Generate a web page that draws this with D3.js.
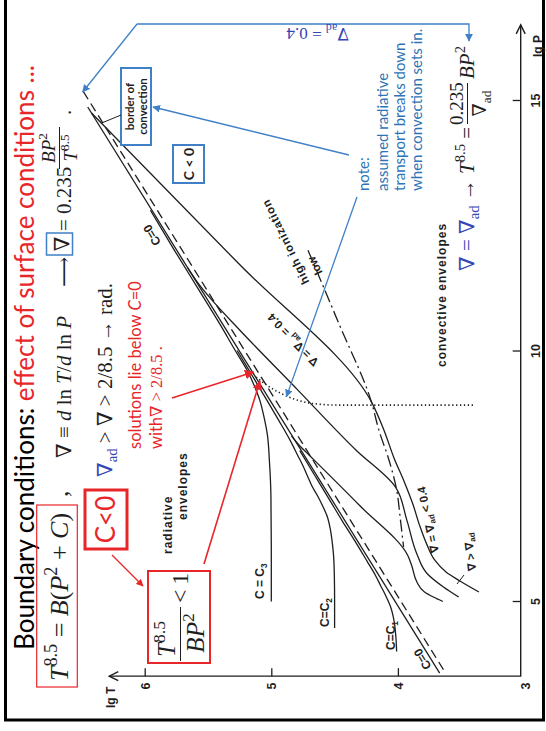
<!DOCTYPE html>
<html>
<head>
<meta charset="utf-8">
<script src="https://cdn.jsdelivr.net/npm/d3@7"></script>
<style>
  html, body { margin: 0; padding: 0; background: #fff; }
  svg { display: block; }
  text { white-space: pre; }
</style>
</head>
<body>
<div id="chart-area"></div>
<script>
// values, every point is [lg P, lg T]
const lgTTicks = [3, 4, 5, 6]
const lgPTicks = [5, 10, 15]

const cZero = [[3.56, 3.67], [14.86, 6.45]]
const borderConvection = [[3.63, 3.64], [15.23, 6.50]]
const cOne = [[3.99, 4.01], [4.25, 4.015], [4.6, 4.03], [4.9, 4.06], [5.1, 4.095], [5.3, 4.135], [5.5, 4.175],
  [5.8, 4.245], [6.2, 4.34], [6.6, 4.44], [7.0, 4.535], [7.5, 4.655], [8.0, 4.775]]
const cTwo = [[4.46, 4.50], [5.0, 4.50], [5.5, 4.502], [5.9, 4.508], [6.2, 4.52], [6.45, 4.535], [6.7, 4.56],
  [6.9, 4.595], [7.1, 4.635], [7.3, 4.68], [7.5, 4.715], [7.7, 4.75], [7.9, 4.79], [8.2, 4.85], [8.6, 4.94],
  [9.2, 5.08], [10.0, 5.27]]
const cThree = [[4.99, 5.0], [6.1, 5.0], [7.1, 5.003], [7.8, 5.015], [8.3, 5.03], [8.7, 5.06], [9.0, 5.09],
  [9.3, 5.135], [9.6, 5.19], [10.0, 5.285], [10.5, 5.40], [11.2, 5.57], [12.0, 5.765], [12.8, 5.955]]

const adiabatUpper = [[14.74, 6.42], [11.74, 5.26], [8.98, 4.21], [8.41, 4.11], [7.85, 4.03], [7.38, 3.95],
  [6.92, 3.88], [6.52, 3.83], [6.12, 3.77], [5.82, 3.71], [5.58, 3.62], [5.40, 3.51], [5.18, 3.36]]
const adiabatMiddle = [[11.65, 5.66], [11.35, 5.58], [11.01, 5.47], [10.41, 5.25], [9.21, 4.79], [8.01, 4.33],
  [7.28, 4.02], [6.62, 3.93], [5.94, 3.85], [5.55, 3.77], [5.28, 3.64], [5.08, 3.52]]
const adiabatLower = [[8.29, 4.84], [8.11, 4.78], [7.91, 4.70], [6.90, 4.30], [5.90, 3.92], [5.70, 3.89],
  [5.38, 3.85], [5.18, 3.79], [5.08, 3.72], [4.99, 3.645]]

const ionization = [[12.0, 4.71], [10.5, 4.46], [8.98, 4.21], [8.41, 4.15], [7.81, 4.07], [7.22, 4.01],
  [6.62, 3.98], [6.08, 3.955]]
const radiativeBreak = [[9.47, 5.12], [9.25, 5.00], [9.07, 4.86], [8.94, 4.67], [8.91, 4.46], [8.91, 3.39]]

// points the slide annotations aim at
const redArrowTips = [[9.57, 5.14], [9.39, 5.09]]
const noteArrowTip = [9.08, 4.88]
const borderArrowTip = [15.16, 6.49]
const borderLeaderFoot = [14.54, 6.34]

const SANS = "Lato, 'Liberation Sans', sans-serif"
const FIG = "'Liberation Sans', 'DejaVu Sans', Arial, sans-serif"
const MATH = "'Liberation Serif', 'DejaVu Serif', serif"
const RED = "#e8262a"
const BLUE = "#3f80c6"
const BLUE_TXT = "#2e74b5"
const MATH_BLUE = "#3645b5"
const INK = "#1e1e1e"

const svg = d3.select("#chart-area").append("svg")
  .attr("width", 546)
  .attr("height", 731)

const defs = svg.append("defs")
function marker(id, color) {
  defs.append("marker")
    .attr("id", id)
    .attr("viewBox", "0 0 10 10")
    .attr("refX", 9).attr("refY", 5)
    .attr("markerWidth", 6).attr("markerHeight", 6)
    .attr("orient", "auto")
    .append("path")
    .attr("d", "M0,0 L10,5 L0,10 z")
    .attr("fill", color)
}
marker("arrRed", RED)
marker("arrBlue", BLUE)

// lg T runs right->left on the page, lg P runs bottom->top
const xScale = d3.scaleLinear().domain([3, 6]).range([524.5, 144.7])
const yScale = d3.scaleLinear().domain([5, 15]).range([601, 100])
const px = d => xScale(d[1])
const py = d => yScale(d[0])

// slide frame
svg.append("path")
  .attr("d", "M5.5,0 V720 H543.5 V0")
  .attr("fill", "none").attr("stroke", "#000").attr("stroke-width", 3)

function richText(parent, x, y, rot, parts, o) {
  const size = o.size
  const t = parent.append("text")
    .attr("transform", `translate(${x},${y}) rotate(${rot})`)
    .attr("font-family", o.font || MATH)
    .attr("font-size", size)
    .attr("font-weight", o.weight || "normal")
    .attr("fill", o.fill || INK)
    .attr("text-anchor", o.anchor || "start")
  if (o.spacing) t.attr("letter-spacing", o.spacing)
  if (o.length) t.attr("textLength", o.length).attr("lengthAdjust", "spacingAndGlyphs")
  let shift = 0
  parts.forEach(([str, flags = ""]) => {
    const s = t.append("tspan").text(str)
    const target = flags.includes("^") ? -0.42 * size : flags.includes("_") ? 0.24 * size : 0
    if (target !== shift) s.attr("dy", target - shift)
    shift = target
    if (flags.includes("^") || flags.includes("_")) s.attr("font-size", size * 0.7)
    if (flags.includes("i")) s.attr("font-style", "italic")
    if (flags.includes("m")) s.attr("font-family", MATH)
    if (flags.includes("b")) s.attr("fill", MATH_BLUE)
    if (flags.includes("r")) s.attr("fill", RED)
    if (flags.includes("k")) s.attr("fill", "#000")
  })
  return t
}

// ---------- plot ----------
const plot = svg.append("g")
const lineGen = d3.line().x(px).y(py).curve(d3.curveMonotoneY)

const solid = [cZero, cOne, cTwo, cThree, adiabatUpper, adiabatMiddle, adiabatLower]
plot.selectAll(".curve")
  .data(solid)
  .join("path")
  .attr("class", "curve")
  .attr("d", lineGen)
  .attr("fill", "none")
  .attr("stroke", INK)
  .attr("stroke-width", 1.3)

plot.append("path")
  .attr("d", lineGen(borderConvection))
  .attr("fill", "none").attr("stroke", INK).attr("stroke-width", 1.3)
  .attr("stroke-dasharray", "9,5")

plot.append("path")
  .attr("d", lineGen(ionization))
  .attr("fill", "none").attr("stroke", INK).attr("stroke-width", 1.3)
  .attr("stroke-dasharray", "12,4,2,4")

plot.append("path")
  .attr("d", d3.line().x(px).y(py).curve(d3.curveMonotoneX)(radiativeBreak))
  .attr("fill", "none").attr("stroke", INK).attr("stroke-width", 1.6)
  .attr("stroke-dasharray", "1.3,2.6")

// axes
const cornerT = 3.03, cornerP = 3.5
const xAxis = svg.append("g")
  .attr("transform", `translate(0,${yScale(cornerP)})`)
  .call(d3.axisBottom(xScale).tickValues(lgTTicks).tickSize(-8).tickFormat(d3.format("d")))
xAxis.select(".domain").remove()
xAxis.selectAll(".tick line").attr("stroke", INK).attr("stroke-width", 1.3)
xAxis.selectAll(".tick").filter(d => d === 3).select("line").remove()
xAxis.selectAll(".tick text")
  .attr("transform", "rotate(-90)")
  .attr("x", -10).attr("y", 0).attr("dy", "0.36em")
  .attr("text-anchor", "middle")
  .attr("font-family", FIG).attr("font-size", 12.5).attr("font-weight", "bold").attr("fill", INK)

const yAxis = svg.append("g")
  .attr("transform", `translate(${xScale(cornerT)},0)`)
  .call(d3.axisRight(yScale).tickValues(lgPTicks).tickSize(-8).tickFormat(d3.format("d")))
yAxis.select(".domain").remove()
yAxis.selectAll(".tick line").attr("stroke", INK).attr("stroke-width", 1.3)
yAxis.selectAll(".tick text")
  .attr("transform", "rotate(-90)")
  .attr("x", 0).attr("y", 19).attr("dy", 0)
  .attr("text-anchor", "middle")
  .attr("font-family", FIG).attr("font-size", 12.5).attr("font-weight", "bold").attr("fill", INK)

const ax0 = xScale(cornerT), ay0 = yScale(cornerP)
const axT = xScale(6.28), ayP = yScale(16.5)
svg.append("path")
  .attr("d", `M${axT},${ay0} H${ax0} V${ayP}`)
  .attr("fill", "none").attr("stroke", INK).attr("stroke-width", 1.4)
svg.append("path")
  .attr("d", `M${axT + 9},${ay0 - 4.5} L${axT},${ay0} L${axT + 9},${ay0 + 4.5}`)
  .attr("fill", "none").attr("stroke", INK).attr("stroke-width", 1.4)
svg.append("path")
  .attr("d", `M${ax0 - 4.5},${ayP + 9} L${ax0},${ayP} L${ax0 + 4.5},${ayP + 9}`)
  .attr("fill", "none").attr("stroke", INK).attr("stroke-width", 1.4)

richText(svg, 115, 708, -90, [["lg T"]], { font: FIG, size: 12, weight: "bold" })
richText(svg, 542, 57, -90, [["lg P"]], { font: FIG, size: 12, weight: "bold" })

// figure labels
const figLab = { font: FIG, size: 12, weight: "bold" }
richText(svg, 264, 599, -90, [["C = C"], ["3", "_"]], figLab)
richText(svg, 329, 627, -90, [["C=C"], ["2", "_"]], figLab)
richText(svg, 395, 650, -90, [["C=C"], ["1", "_"]], figLab)
richText(svg, 155.5, 233, -121, [["C=0"]], { ...figLab, anchor: "middle" })
richText(svg, 426, 657, -121, [["C=0"]], { ...figLab, anchor: "middle" })
richText(svg, 296, 337, -134, [["∇ = ∇"], ["ad", "_"], [" = 0.4"]], { ...figLab, size: 11.5, anchor: "middle" })
richText(svg, 432, 519, -102, [["∇ = ∇"], ["ad", "_"], [" < 0.4"]], { ...figLab, size: 11.5, anchor: "middle" })
richText(svg, 474, 551.5, -97, [["∇ > ∇"], ["ad", "_"]], { ...figLab, size: 11.5, anchor: "middle" })
svg.append("line").attr("x1", 457).attr("y1", 584).attr("x2", 464).attr("y2", 575)
  .attr("stroke", INK).attr("stroke-width", 1)
richText(svg, 309.5, 282, -116, [["high ionization"]], { ...figLab, size: 11.5, spacing: 0.8 })
richText(svg, 318.5, 264, -116, [["low"]], { ...figLab, size: 11.5, anchor: "middle" })
richText(svg, 172, 554, -90, [["radiative"]], { ...figLab, spacing: 1 })
richText(svg, 187, 520, -90, [["envelopes"]], { ...figLab, spacing: 1 })
richText(svg, 446, 367, -90, [["convective envelopes"]], { ...figLab, spacing: 1 })

// ---------- slide annotations ----------
richText(svg, 33.5, 650, -90, [["Boundary conditions: ", "k"], ["effect of surface conditions ...", "r"]],
  { font: SANS, size: 27, length: 585 })

// T^8.5 = B(P^2 + C)
svg.append("rect").attr("x", 36.7).attr("y", 505).attr("width", 40.6).attr("height", 182)
  .attr("fill", "none").attr("stroke", RED).attr("stroke-width", 1.2)
richText(svg, 68, 681, -90, [["T", "i"], ["8.5", "^"], [" = "], ["B", "i"], ["("], ["P", "i"], ["2", "^"], [" + "], ["C", "i"], [")"]], { size: 26 })
richText(svg, 68, 497, -90, [[","]], { size: 26 })

// nabla definition
richText(svg, 70.5, 458, -90, [["∇ ≡ "], ["d", "i"], [" ln "], ["T", "i"], ["/"], ["d", "i"], [" ln "], ["P", "i"]], { size: 21 })
richText(svg, 70.5, 287, -90, [["⟶"]], { size: 21 })
svg.append("rect").attr("x", 46.5).attr("y", 233).attr("width", 26).attr("height", 22)
  .attr("fill", "none").attr("stroke", BLUE).attr("stroke-width", 1.5)
richText(svg, 69, 244, -90, [["∇"]], { size: 21, anchor: "middle" })
richText(svg, 70.5, 231, -90, [["= 0.235"]], { size: 21 })
svg.append("line").attr("x1", 59.5).attr("y1", 127).attr("x2", 59.5).attr("y2", 169)
  .attr("stroke", INK).attr("stroke-width", 1)
richText(svg, 55, 148, -90, [["BP", "i"], ["2", "^"]], { size: 19, anchor: "middle" })
richText(svg, 77, 148, -90, [["T", "i"], ["8.5", "^"]], { size: 19, anchor: "middle" })
richText(svg, 70.5, 115, -90, [["."]], { size: 21 })

richText(svg, 112, 477, -90, [["∇", "b"], ["ad", "_b"], [" > ∇ > 2/8.5 → rad."]], { size: 21 })
richText(svg, 141, 449, -90, [["solutions lie below "], ["C", "i"], ["=0"]], { font: SANS, size: 16.5, fill: RED })
richText(svg, 162, 449, -90, [["with"], ["∇ > 2/8.5 .", "m"]], { font: SANS, size: 16.5, fill: RED })

// C<0 and the condition box
svg.append("rect").attr("x", 85).attr("y", 490).attr("width", 42).attr("height", 59)
  .attr("fill", "none").attr("stroke", RED).attr("stroke-width", 3)
richText(svg, 115, 519.5, -90, [["C<0"]], { font: SANS, size: 26, fill: RED, anchor: "middle" })
svg.append("line").attr("x1", 112).attr("y1", 555).attr("x2", 143).attr("y2", 586)
  .attr("stroke", RED).attr("stroke-width", 1.2).attr("marker-end", "url(#arrRed)")

svg.append("rect").attr("x", 148).attr("y", 571).attr("width", 62).attr("height", 92)
  .attr("fill", "none").attr("stroke", RED).attr("stroke-width", 2)
richText(svg, 175, 639, -90, [["T", "i"], ["8.5", "^"]], { size: 25, anchor: "middle" })
svg.append("line").attr("x1", 180.5).attr("y1", 607).attr("x2", 180.5).attr("y2", 661)
  .attr("stroke", INK).attr("stroke-width", 1)
richText(svg, 204, 633, -90, [["BP", "i"], ["2", "^"]], { size: 25, anchor: "middle" })
richText(svg, 188, 603, -90, [["<\u20091"]], { size: 24 })

svg.append("line").attr("x1", 204).attr("y1", 564)
  .attr("x2", px(redArrowTips[1])).attr("y2", py(redArrowTips[1]))
  .attr("stroke", RED).attr("stroke-width", 1.6).attr("marker-end", "url(#arrRed)")
svg.append("line").attr("x1", 172).attr("y1", 398)
  .attr("x2", px(redArrowTips[0])).attr("y2", py(redArrowTips[0]))
  .attr("stroke", RED).attr("stroke-width", 1.6).attr("marker-end", "url(#arrRed)")

// blue boxes and notes
svg.append("rect").attr("x", 121).attr("y", 68).attr("width", 30).attr("height", 77)
  .attr("fill", "#fff").attr("stroke", BLUE).attr("stroke-width", 2)
richText(svg, 134, 106.5, -90, [["border of"]], { font: SANS, size: 11.5, weight: "bold", anchor: "middle" })
richText(svg, 146.5, 106.5, -90, [["convection"]], { font: SANS, size: 11.5, weight: "bold", anchor: "middle" })
svg.append("line").attr("x1", px(borderLeaderFoot)).attr("y1", py(borderLeaderFoot))
  .attr("x2", 121).attr("y2", 115).attr("stroke", INK).attr("stroke-width", 1)

svg.append("rect").attr("x", 173).attr("y", 145).attr("width", 31).attr("height", 38)
  .attr("fill", "#fff").attr("stroke", BLUE).attr("stroke-width", 2)
richText(svg, 193.5, 164, -90, [["C < 0"]], { font: SANS, size: 14, weight: "bold", anchor: "middle" })

const noteLines = ["note:", "assumed radiative", "transport breaks down", "when convection sets in."]
const noteX = [369, 387.5, 404.5, 421.5]
noteLines.forEach((s, i) => richText(svg, noteX[i], 191, -90, [[s]], { font: SANS, size: 15, fill: BLUE_TXT }))
svg.append("line").attr("x1", 349).attr("y1", 155).attr("x2", 153).attr("y2", 107)
  .attr("stroke", BLUE).attr("stroke-width", 1.3).attr("marker-end", "url(#arrBlue)")
svg.append("line").attr("x1", 357).attr("y1", 197)
  .attr("x2", px(noteArrowTip)).attr("y2", py(noteArrowTip))
  .attr("stroke", BLUE).attr("stroke-width", 1.3).attr("marker-end", "url(#arrBlue)")

svg.append("path").attr("d", "M137,24 H469 V41")
  .attr("fill", "none").attr("stroke", BLUE).attr("stroke-width", 1.3).attr("marker-end", "url(#arrBlue)")
svg.append("path").attr("d", `M137,24 L${px(borderArrowTip)},${py(borderArrowTip)}`)
  .attr("fill", "none").attr("stroke", BLUE).attr("stroke-width", 1.3).attr("marker-end", "url(#arrBlue)")
richText(svg, 349, 28, 180, [["∇"], ["ad", "_"], [" = 0.4"]], { size: 17, fill: MATH_BLUE })

// nabla = nabla_ad  ->  T^8.5 = 0.235/nabla_ad B P^2
richText(svg, 474, 271, -90, [["∇ = ∇", "b"], ["ad", "_b"], [" → "], ["T", "i"], ["8.5", "^"], [" ="]], { size: 21 })
svg.append("line").attr("x1", 467.5).attr("y1", 83).attr("x2", 467.5).attr("y2", 124)
  .attr("stroke", INK).attr("stroke-width", 1)
richText(svg, 463, 103.5, -90, [["0.235"]], { size: 19, anchor: "middle" })
richText(svg, 486, 103.5, -90, [["∇"], ["ad", "_"]], { size: 19, anchor: "middle" })
richText(svg, 474, 79, -90, [["BP", "i"], ["2", "^"]], { size: 21 })
</script>
</body>
</html>
